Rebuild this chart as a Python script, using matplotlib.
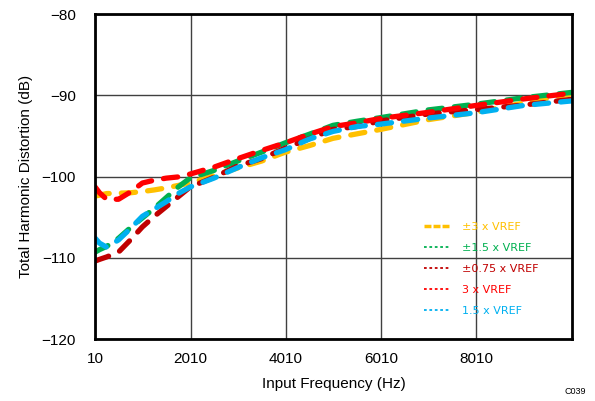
import matplotlib
matplotlib.use("Agg")
import matplotlib.pyplot as plt
from matplotlib.lines import Line2D

plt.rcParams['font.family'] = ['Liberation Sans', 'DejaVu Sans']

freq = [10, 100, 250, 500, 750, 1000, 1250, 1500, 1750, 2000, 2500, 3000,
        3500, 4000, 4500, 5000, 5500, 6000, 7000, 8000, 9000, 10000]

thd_pm3 = [-102.4, -102.3, -102.1, -102.05, -102.0, -101.85, -101.65, -101.4,
           -101.1, -100.8, -99.9, -98.95, -98.1, -97.0, -96.2, -95.3, -94.75,
           -94.2, -93.0, -92.1, -90.95, -89.8]
thd_pm15 = [-109.3, -109.0, -108.6, -107.6, -106.3, -105.1, -103.9, -102.6,
            -101.3, -100.2, -99.25, -98.1, -97.0, -95.85, -94.8, -93.7, -93.2,
            -92.75, -91.8, -91.1, -90.3, -89.65]
thd_pm075 = [-110.4, -110.2, -109.9, -109.3, -107.8, -106.2, -104.9, -103.7,
             -102.5, -101.3, -100.1, -98.7, -97.8, -96.5, -95.35, -94.2, -93.85,
             -93.15, -92.3, -91.75, -91.2, -90.5]
thd_3 = [-101.3, -102.0, -102.8, -102.8, -101.9, -100.8, -100.45, -100.2,
         -100.05, -99.7, -98.85, -97.8, -96.8, -95.85, -94.8, -93.85, -93.4,
         -92.85, -92.1, -91.25, -90.45, -89.75]
thd_15 = [-107.6, -108.2, -108.7, -107.8, -106.4, -104.9, -104.0, -103.1,
          -102.1, -101.3, -100.2, -98.9, -97.7, -96.7, -95.4, -94.45, -93.85,
          -93.55, -92.8, -92.15, -91.25, -90.7]

labels = ['±3 x VREF', '±1.5 x VREF', '±0.75 x VREF', '3 x VREF', '1.5 x VREF']
colors = ['#FFC000', '#00B050', '#C00000', '#FF0000', '#00B0F0']
series = [thd_pm3, thd_pm15, thd_pm075, thd_3, thd_15]

xticks = [10, 2010, 4010, 6010, 8010]
yticks = [-120, -110, -100, -90, -80]

fig = plt.figure(figsize=(5.95, 4.01), dpi=100)
ax = fig.add_axes([0.160, 0.1546, 0.801, 0.8104])

for i in range(len(series)):
    ln, = ax.plot(freq, series[i], color=colors[i], lw=3.8,
                  solid_capstyle='round', dash_capstyle='round', zorder=3 + i)
    ln.set_dashes((2.7, 2.3))

ax.set_xlim(10, 10010)
ax.set_ylim(-120, -80)
ax.set_xticks(xticks)
ax.set_xticklabels([str(v) for v in xticks])
ax.set_yticks(yticks)
ax.grid(True, color='#404040', lw=1.0)
ax.tick_params(length=0, labelsize=11)
ax.tick_params(axis='y', pad=14)
ax.tick_params(axis='x', pad=9)
for s in ax.spines.values():
    s.set_linewidth(2.0)
    s.set_color('black')
    s.set_zorder(10)

ax.set_xlabel('Input Frequency (Hz)', fontsize=11, labelpad=8)
ax.set_ylabel('Total Harmonic Distortion (dB)', fontsize=11, labelpad=6)

handles = []
for i in range(5):
    if i == 0:
        h = Line2D([], [], color=colors[i], lw=2.5, linestyle=(0, (2.0, 0.6)))
    else:
        h = Line2D([], [], color=colors[i], lw=1.3, linestyle=(0, (1.5, 1.5)))
    handles.append(h)
leg = ax.legend(handles, labels, loc='upper left', bbox_to_anchor=(0.68, 0.375),
                frameon=False, prop={'family': 'DejaVu Sans', 'size': 8},
                handlelength=2.4, handletextpad=1.0,
                labelspacing=1.0, borderaxespad=0)
for t, c in zip(leg.get_texts(), colors):
    t.set_color(c)

fig.text(0.985, 0.012, 'C039', fontsize=6.5, ha='right', va='bottom')

fig.savefig('out.png', dpi=100)
